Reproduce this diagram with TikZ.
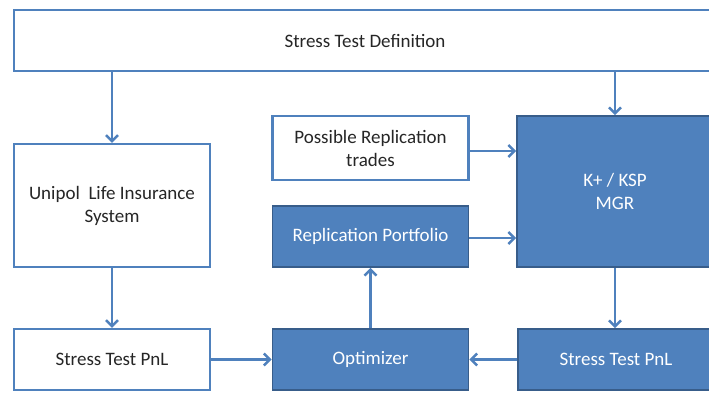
\documentclass[tikz,border=0pt]{standalone}
\usepackage{fontspec}
\setmainfont{Carlito}
\usepackage{xcolor}
\usepackage{tikz}
\usetikzlibrary{arrows.meta,positioning,calc}

\definecolor{offblue}{HTML}{4F81BD}
\definecolor{offdark}{HTML}{385D8A}
\definecolor{txtgray}{HTML}{262626}

\begin{document}
\begin{tikzpicture}[
x=1pt, y=-1pt,
font=\fontsize{19}{23}\selectfont,
box/.style={draw, line width=2.4pt, align=center, inner sep=0pt, minimum width=196pt, minimum height=61pt},
plain/.style={box, draw=offblue, fill=white, text=txtgray},
solid/.style={box, draw=offdark, line width=1.8pt, fill=offblue, text=white},
arr/.style={-{Straight Barb[length=6pt,width=12pt,line width=2.4pt]}, line width=2.4pt, offblue}
]

\clip (0,0) rectangle (709,394);
\fill[white] (0,0) rectangle (709,394);

% Top definition bar
\node[plain, minimum width=702pt] (def) at (365,40.5) {Stress Test Definition};

% Left column
\node[plain, minimum height=123pt] (uni) at (112,205.5) {Unipol\ \ Life Insurance\\System};
\node[plain] (pnlL) at (112,359.5) {Stress Test PnL};

% Middle column
\node[plain, minimum height=64pt] (trades) at (370.5,148) {Possible Replication\\trades};
\node[solid] (port) at (370.5,236.5) {Replication Portfolio};
\node[solid] (opt) at (370.5,359.5) {Optimizer};

% Right column
\node[solid, minimum height=151pt] (kksp) at (615,191.5) {K+ / KSP\\MGR};
\node[solid] (pnlR) at (616,359.5) {Stress Test PnL};

% Connectors
\draw[arr] (uni.north |- def.south) -- (uni.north);
\draw[arr] (kksp.north |- def.south) -- (kksp.north);
\draw[arr] (uni) -- (pnlL);
\draw[arr] (pnlL) -- (opt);
\draw[arr] (opt) -- (port);
\draw[arr] ($(trades.east)+(0,3)$) -- ($(kksp.west |- trades.east)+(0,3)$);
\draw[arr] ($(port.east)+(0,1.5)$) -- ($(kksp.west |- port.east)+(0,1.5)$);
\draw[arr] (kksp.south) -- (kksp.south |- pnlR.north);
\draw[arr] (pnlR) -- (opt);

\end{tikzpicture}
\end{document}
